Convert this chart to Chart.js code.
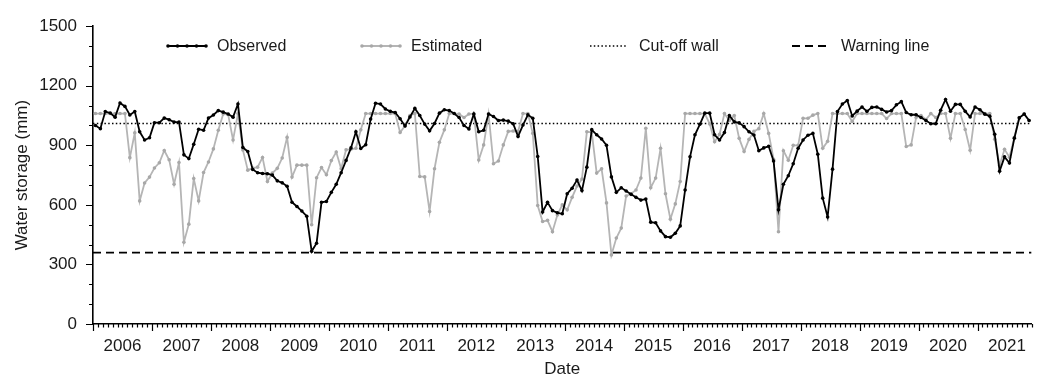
<!DOCTYPE html>
<html>
<head>
<meta charset="utf-8">
<script src="https://cdn.jsdelivr.net/npm/chart.js@4.4.1/dist/chart.umd.min.js"></script>
<style>
  html, body { margin: 0; padding: 0; background: #fff; }
  #wrap { width: 1038px; height: 382px; }
</style>
</head>
<body>
<div id="wrap"><canvas id="storageChart"></canvas></div>
<script>
// Monthly water storage (mm), one value per month from Jan 2006 to Nov 2021
const yearLabels = ['2006', '2007', '2008', '2009', '2010', '2011', '2012', '2013',
                    '2014', '2015', '2016', '2017', '2018', '2019', '2020', '2021'];

const observed = [
    1000, 984, 1070, 1063, 1042, 1113, 1096, 1053, 1070, 968, 927, 938,      // 2006
    1014, 1014, 1037, 1029, 1017, 1017, 852, 833, 905, 981, 976, 1037,       // 2007
    1053, 1075, 1067, 1058, 1042, 1108, 889, 869, 778, 762, 758, 757,        // 2008
    750, 721, 711, 694, 613, 592, 569, 543, 366, 407, 613, 617,              // 2009
    663, 704, 762, 824, 887, 968, 884, 903, 1032, 1112, 1108, 1083,          // 2010
    1071, 1065, 1034, 997, 1043, 1086, 1050, 1007, 973, 1010, 1062, 1079,    // 2011
    1075, 1060, 1040, 1000, 982, 1058, 968, 976, 1058, 1045, 1025, 1027,     // 2012
    1022, 1009, 945, 1002, 1054, 1036, 844, 564, 613, 571, 560, 555,         // 2013
    656, 684, 725, 672, 790, 979, 953, 932, 900, 741, 663, 686,              // 2014
    670, 653, 638, 624, 629, 513, 510, 469, 440, 437, 457, 494,              // 2015
    675, 842, 953, 1006, 1062, 1062, 953, 927, 964, 1050, 1018, 1013,        // 2016
    994, 968, 952, 873, 887, 895, 821, 575, 704, 747, 807, 885,              // 2017
    927, 951, 960, 855, 634, 539, 780, 1070, 1108, 1126, 1048, 1072,         // 2018
    1093, 1071, 1091, 1093, 1081, 1068, 1075, 1104, 1120, 1065, 1054, 1054,  // 2019
    1040, 1025, 1009, 1009, 1077, 1131, 1072, 1106, 1106, 1071, 1043, 1093,  // 2020
    1079, 1057, 1047, 956, 770, 842, 811, 936, 1038, 1058, 1025              // 2021
];

const estimated = [
    1060, 1060, 1060, 1060, 1060, 1060, 1060, 838, 963, 620, 710, 740,       // 2006
    786, 812, 874, 827, 704, 813, 412, 503, 733, 620, 763, 816,              // 2007
    882, 976, 1058, 1055, 927, 1060, 877, 775, 785, 790, 839, 718,           // 2008
    760, 784, 836, 940, 740, 800, 800, 800, 500, 737, 788, 752,              // 2009
    823, 866, 782, 878, 880, 885, 978, 1060, 1060, 1060, 1060, 1060,         // 2010
    1060, 1060, 965, 998, 1050, 1060, 743, 741, 567, 782, 915, 978,          // 2011
    1060, 1060, 1058, 1040, 1058, 1058, 826, 902, 1058, 807, 821, 902,       // 2012
    970, 972, 970, 1060, 1060, 960, 597, 516, 522, 465, 549, 600,            // 2013
    575, 638, 695, 730, 968, 965, 760, 782, 610, 348, 433, 483,              // 2014
    645, 656, 675, 735, 986, 686, 735, 885, 656, 528, 605, 718,              // 2015
    1060, 1060, 1060, 1060, 1060, 1008, 918, 955, 1060, 1025, 1050, 935,     // 2016
    869, 930, 970, 984, 1060, 960, 830, 465, 873, 825, 900, 900,             // 2017
    1036, 1036, 1052, 1060, 885, 920, 1060, 1060, 1060, 1060, 1020, 1060,    // 2018
    1060, 1060, 1060, 1060, 1060, 1035, 1060, 1060, 1060, 894, 902, 1040,    // 2019
    1050, 1030, 1060, 1040, 1060, 1060, 935, 1060, 1060, 980, 875, 1060,     // 2020
    1060, 1060, 1060, 930, 800, 880, 840, 940, 1040, 1058, 1025              // 2021
];

const cutOffWall = 1010;
const warningLine = 360;
const yTickValues = [0, 300, 600, 900, 1200, 1500];

const monthCount = 191;   // x axis runs Jan 2006 .. end of Dec 2021 in months
const textColor = '#1a1a1a';
Chart.defaults.font.family = "'Liberation Sans', Arial, sans-serif";
Chart.defaults.color = textColor;

// monthly values sit in the middle of their month
const toPoints = arr => arr.map((v, i) => ({ x: i + 0.5, y: v }));
const flatLine = v => [{ x: 0, y: v }, { x: monthCount, y: v }];

// minor/major tick marks on both axes
const axisTicks = {
    id: 'axisTicks',
    afterDraw(chart) {
        const { ctx, scales: { x, y } } = chart;
        ctx.save();
        ctx.strokeStyle = '#000';
        ctx.lineWidth = 1.2;
        ctx.beginPath();
        for (let m = 0; m <= monthCount; m++) {
            const px = Math.round(x.getPixelForValue(m)) + 0.5;
            ctx.moveTo(px, y.bottom);
            ctx.lineTo(px, y.bottom + (m % 12 === 0 ? 7 : 3.5));
        }
        for (let v = 0; v <= 1500; v += 100) {
            const py = Math.round(y.getPixelForValue(v)) + 0.5;
            ctx.moveTo(x.left, py);
            ctx.lineTo(x.left - (v % 300 === 0 ? 7 : 4), py);
        }
        ctx.stroke();
        ctx.restore();
    }
};

// single-row legend drawn inside the plot area
const insideLegend = {
    id: 'insideLegend',
    afterDraw(chart) {
        const ctx = chart.ctx;
        const rowY = 46;
        const items = [
            { ds: 0, x: 168 },
            { ds: 1, x: 362 },
            { ds: 2, x: 590 },
            { ds: 3, x: 792 }
        ];
        ctx.save();
        ctx.font = "16px 'Liberation Sans', Arial, sans-serif";
        ctx.textBaseline = 'middle';
        ctx.fillStyle = textColor;
        items.forEach(it => {
            const ds = chart.data.datasets[it.ds];
            const len = 38;
            ctx.save();
            ctx.strokeStyle = ds.borderColor;
            ctx.lineWidth = ds.borderWidth;
            ctx.setLineDash(ds.borderDash || []);
            ctx.beginPath();
            ctx.moveTo(it.x, rowY);
            ctx.lineTo(it.x + len, rowY);
            ctx.stroke();
            if (ds.pointRadius) {
                ctx.fillStyle = ds.pointBackgroundColor;
                for (let k = 0; k < 5; k++) {
                    ctx.beginPath();
                    ctx.arc(it.x + k * len / 4, rowY, ds.pointRadius, 0, Math.PI * 2);
                    ctx.fill();
                }
            }
            ctx.restore();
            ctx.fillText(ds.label, it.x + len + 11, rowY + 1);
        });
        ctx.restore();
    }
};

new Chart(document.getElementById('storageChart'), {
    type: 'line',
    data: {
        datasets: [
            {
                label: 'Observed',
                data: toPoints(observed),
                borderColor: '#000',
                borderWidth: 1.8,
                pointRadius: 1.8,
                pointBackgroundColor: '#000',
                pointBorderWidth: 0,
                order: 0
            },
            {
                label: 'Estimated',
                data: toPoints(estimated),
                borderColor: '#b5b5b5',
                borderWidth: 1.8,
                pointRadius: 1.8,
                pointBackgroundColor: '#a8a8a8',
                pointBorderWidth: 0,
                order: 1
            },
            {
                label: 'Cut-off wall',
                data: flatLine(cutOffWall),
                borderColor: '#000',
                borderWidth: 1.4,
                borderDash: [1.5, 2.3],
                pointRadius: 0,
                order: 2
            },
            {
                label: 'Warning line',
                data: flatLine(warningLine),
                borderColor: '#000',
                borderWidth: 1.8,
                borderDash: [8, 5],
                pointRadius: 0,
                order: 3
            }
        ]
    },
    options: {
        responsive: true,
        maintainAspectRatio: false,
        animation: false,
        layout: { padding: { top: 21, right: 4, left: 0, bottom: 0 } },
        plugins: {
            legend: { display: false },
            tooltip: { enabled: false }
        },
        scales: {
            x: {
                type: 'linear',
                min: 0,
                max: monthCount,
                afterBuildTicks: scale => {
                    scale.ticks = yearLabels.map((_, k) => ({ value: 12 * k + 6 }));
                },
                afterFit: scale => { scale.height = 58; },
                grid: { display: false, drawTicks: false },
                border: { display: true, color: '#000', width: 1.6 },
                ticks: {
                    padding: 12,
                    maxRotation: 0,
                    autoSkip: false,
                    font: { size: 17 },
                    callback: value => yearLabels[(value - 6) / 12]
                },
                title: {
                    display: true,
                    text: 'Date',
                    font: { size: 17 },
                    padding: { top: 0, bottom: 2 }
                }
            },
            y: {
                min: 0,
                max: 1500,
                afterBuildTicks: scale => {
                    scale.ticks = yTickValues.map(v => ({ value: v }));
                },
                afterFit: scale => { scale.width = 93; },
                grid: { display: false, drawTicks: false },
                border: { display: true, color: '#000', width: 1.6 },
                ticks: {
                    padding: 16,
                    font: { size: 17 },
                    callback: value => String(value)
                },
                title: {
                    display: true,
                    text: 'Water storage (mm)',
                    font: { size: 17 },
                    padding: { top: 12, bottom: 0 }
                }
            }
        }
    },
    plugins: [axisTicks, insideLegend]
});
</script>
</body>
</html>
